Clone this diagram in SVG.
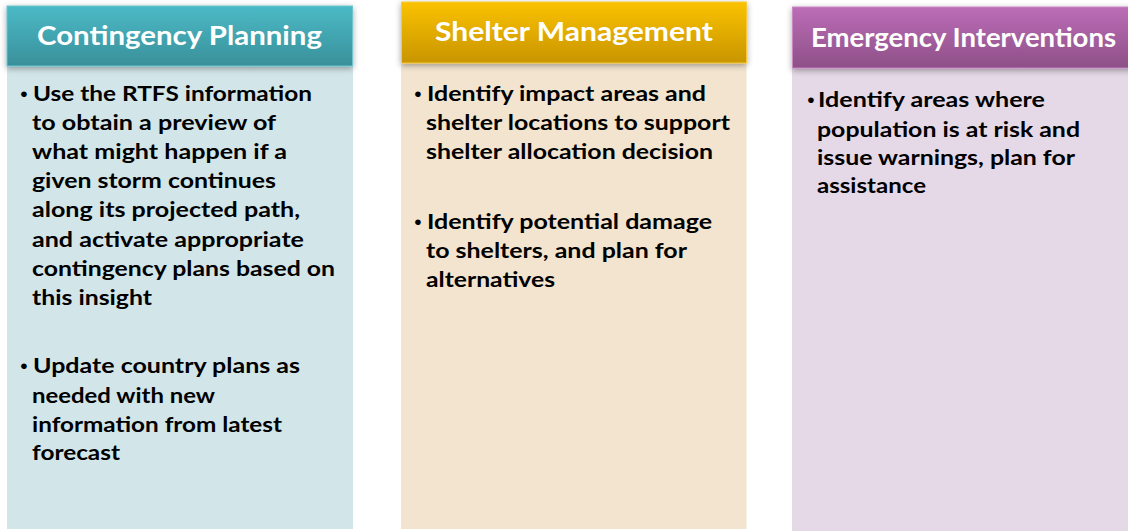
<svg xmlns="http://www.w3.org/2000/svg" width="1128" height="531" viewBox="0 0 1128 531">
<style>
.hdr{font-family:Lato,"Open Sans","Liberation Sans",sans-serif;font-weight:bold;font-size:27px;fill:#ffffff}
.txt{font-family:Lato,"Open Sans","Liberation Sans",sans-serif;font-weight:bold;font-size:21px;fill:#000000}
.bul{font-family:"Liberation Sans",sans-serif;font-size:21px;fill:#000000;text-anchor:middle}
</style>
<defs>
<linearGradient id="gTeal" x1="0" y1="0" x2="0" y2="1"><stop offset="0" stop-color="#4bbac6"/><stop offset="1" stop-color="#39909a"/></linearGradient>
<linearGradient id="gGold" x1="0" y1="0" x2="0" y2="1"><stop offset="0" stop-color="#fbc200"/><stop offset="1" stop-color="#c89500"/></linearGradient>
<linearGradient id="gPurple" x1="0" y1="0" x2="0" y2="1"><stop offset="0" stop-color="#bc6db7"/><stop offset="1" stop-color="#8d5087"/></linearGradient>
<filter id="sh" x="-10%" y="-30%" width="120%" height="160%"><feDropShadow dx="0" dy="2" stdDeviation="3" flood-color="#000" flood-opacity="0.35"/></filter>
</defs>

<g id="contingency-planning">
<rect x="7" y="66" width="346" height="463" fill="#d2e5e8"/>
<rect x="7" y="6" width="345.5" height="60" fill="url(#gTeal)" stroke="#6cc4ce" stroke-width="1" filter="url(#sh)"/>
<text class="hdr" x="37" y="45" textLength="285" lengthAdjust="spacingAndGlyphs">Contingency Planning</text>
<text class="bul" x="24" y="101">•</text>
<text class="txt" x="33" y="101" textLength="279" lengthAdjust="spacingAndGlyphs">Use the RTFS information</text>
<text class="txt" x="32" y="130" textLength="244" lengthAdjust="spacingAndGlyphs">to obtain a preview of</text>
<text class="txt" x="32" y="159" textLength="255" lengthAdjust="spacingAndGlyphs">what might happen if a</text>
<text class="txt" x="32" y="188" textLength="244" lengthAdjust="spacingAndGlyphs">given storm continues</text>
<text class="txt" x="32" y="217" textLength="268" lengthAdjust="spacingAndGlyphs">along its projected path,</text>
<text class="txt" x="32" y="247" textLength="272" lengthAdjust="spacingAndGlyphs">and activate appropriate</text>
<text class="txt" x="32" y="276" textLength="303" lengthAdjust="spacingAndGlyphs">contingency plans based on</text>
<text class="txt" x="32" y="305" textLength="120" lengthAdjust="spacingAndGlyphs">this insight</text>
<text class="bul" x="24" y="373">•</text>
<text class="txt" x="33" y="373" textLength="267" lengthAdjust="spacingAndGlyphs">Update country plans as</text>
<text class="txt" x="32" y="403" textLength="183" lengthAdjust="spacingAndGlyphs">needed with new</text>
<text class="txt" x="32" y="432" textLength="250" lengthAdjust="spacingAndGlyphs">information from latest</text>
<text class="txt" x="32" y="460" textLength="88" lengthAdjust="spacingAndGlyphs">forecast</text>
</g>

<g id="shelter-management">
<rect x="401" y="63" width="345.5" height="466" fill="#f2e4cf"/>
<rect x="401.5" y="2" width="345" height="61" fill="url(#gGold)" stroke="#f6ca3c" stroke-width="1" filter="url(#sh)"/>
<text class="hdr" x="435" y="41" textLength="278" lengthAdjust="spacingAndGlyphs">Shelter Management</text>
<text class="bul" x="418" y="101">•</text>
<text class="txt" x="427" y="101" textLength="279" lengthAdjust="spacingAndGlyphs">Identify impact areas and</text>
<text class="txt" x="426" y="130" textLength="304" lengthAdjust="spacingAndGlyphs">shelter locations to support</text>
<text class="txt" x="426" y="159" textLength="287" lengthAdjust="spacingAndGlyphs">shelter allocation decision</text>
<text class="bul" x="418" y="229">•</text>
<text class="txt" x="427" y="229" textLength="285" lengthAdjust="spacingAndGlyphs">Identify potential damage</text>
<text class="txt" x="426" y="258" textLength="261" lengthAdjust="spacingAndGlyphs">to shelters, and plan for</text>
<text class="txt" x="426" y="287" textLength="129" lengthAdjust="spacingAndGlyphs">alternatives</text>
</g>

<g id="emergency-interventions">
<rect x="792" y="68" width="336" height="463" fill="#e6d9e7"/>
<rect x="792.5" y="7" width="340" height="61" fill="url(#gPurple)" stroke="#c987c4" stroke-width="1" filter="url(#sh)"/>
<text class="hdr" x="811" y="47" textLength="305" lengthAdjust="spacingAndGlyphs">Emergency Interventions</text>
<text class="bul" x="811" y="107">•</text>
<text class="txt" x="818" y="107" textLength="227" lengthAdjust="spacingAndGlyphs">Identify areas where</text>
<text class="txt" x="817" y="137" textLength="263" lengthAdjust="spacingAndGlyphs">population is at risk and</text>
<text class="txt" x="817" y="165" textLength="258" lengthAdjust="spacingAndGlyphs">issue warnings, plan for</text>
<text class="txt" x="817" y="193" textLength="109" lengthAdjust="spacingAndGlyphs">assistance</text>
</g>

<g id="connectors"></g>
</svg>
